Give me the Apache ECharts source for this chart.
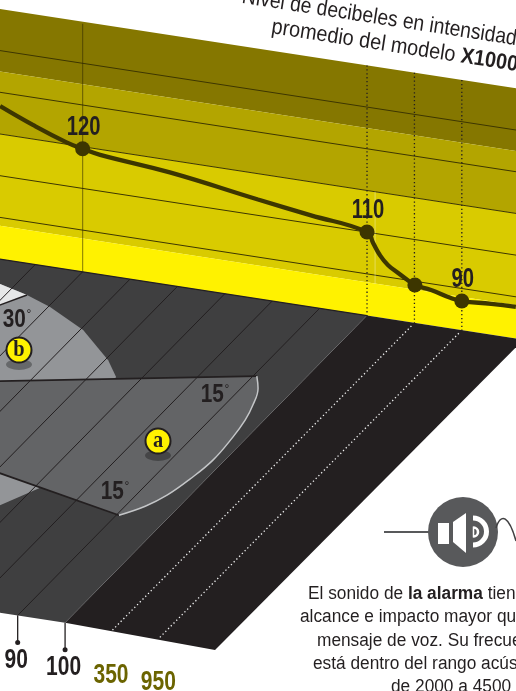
<!DOCTYPE html>
<html>
<head>
<meta charset="utf-8">
<style>html,body{margin:0;padding:0;background:#fff;overflow:hidden}#c{width:516px;height:691px}</style>
<script src="https://cdn.jsdelivr.net/npm/echarts@6/dist/echarts.min.js"></script>
</head>
<body>
<div id="c"></div>
<script>
// ---------- data ----------
const bandLevels = [150, 135, 120, 98, 90];
const gridLevels = [140, 130, 120, 110, 100];
const distanceLines = [30, 40, 50, 60, 70, 80, 90];
const curveDist = [22.6, 29.5, 36.5, 40, 43.7, 58.4, 77, 88, 100, 101.3, 102.7, 104.4, 106.5, 108.6, 110.1, 113.5, 117.7, 120, 126.2, 131.4];
const curveLevel = [126.7, 123.4, 120.5, 119.5, 118.7, 117.05, 113.8, 112, 110.05, 107.6, 105, 102.9, 101.4, 100, 99.1, 98.5, 97.3, 97, 97.4, 97.6];
const pointDist = [40, 100, 110.1, 120];
const pointLevel = [119.5, 110.05, 99.1, 97];
const pointLabels = ['120', '110', '', '90'];
const dottedDist = [100, 110, 120];
const whiteDottedDist = [110, 120];
const tickDist = [90, 100, 110, 120];
const tickLabels = ['90', '100', '350', '950'];
// floor shapes: distance along axis, depth across the floor
const sectorADist = [41, 90.7, 93.1, 95.2, 96.5, 97.3, 97.8, 97.0, 95.7, 93.7, 90.5, 56.2];
const sectorADepth = [.355, .219, .2526, .3027, .3488, .402, .4758, .5395, .5949, .6356, .6724, .5943];
const sectorBDist = [22.4, 27.1, 34, 40.4, 50.6, 60.6, 65.1, 71, 66.9, 64.5];
const sectorBDepth = [.0625, .0707, .09, .114, .1646, .2387, .2832, .6308, .6959, .7245];
const wedgeDist = [22.4, 27.1, 34, 30.9, 28.4];
const wedgeDepth = [.0625, .0707, .09, .1301, .16];

// ---------- scales ----------
const XMIN = 22.57, XMAX = 131.43, YMAX = 152.13, YMIN = -13.57;
const SKEW = 0.175;
const wall = (d, L) => [d, L - SKEW * (d - XMIN)];
const floorPt = (d, t) => wall(d - 63.7 * t, 90 - 84.8 * t);
const INK = '#231f20', OLIVE = '#3d3600';
const FONT = '"Liberation Sans",Arial,sans-serif';
const seq = (a, b) => a.map((v, i) => [v, b[i]]);

const line = (pts, color, width, z, type, smooth) => ({
  type: 'line', data: pts, showSymbol: false, silent: true, animation: false, z: z, smooth: smooth || false,
  lineStyle: { color: color, width: width, type: type || 'solid' }
});
const polySeries = (polys, z) => ({
  type: 'custom', silent: true, animation: false, z: z, clip: false,
  data: polys.map((p, i) => [i]),
  encode: { x: 0 },
  renderItem: (params, api) => {
    const p = polys[params.dataIndex];
    return { type: 'polygon', shape: { points: p.pts.map(q => api.coord(q)) }, style: { fill: p.fill } };
  }
});
// labels placed through the axes, drawn condensed
const labelSeries = (items, z) => ({
  type: 'custom', silent: true, animation: false, z: z, clip: false,
  data: items.map((p, i) => [i]),
  encode: { x: 0 },
  renderItem: (params, api) => {
    const p = items[params.dataIndex];
    const c = api.coord(p.at);
    return {
      type: 'text', x: c[0] + p.dx, y: c[1] + p.dy, scaleX: 0.75,
      style: { text: p.text, align: 'center', verticalAlign: 'middle', font: 'bold ' + p.size + 'px ' + FONT, fill: p.color }
    };
  }
});

const bandColors = ['#857700', '#b3a500', '#d9cb00', '#fff200'];
const bands = bandColors.map((c, i) => ({
  fill: c,
  pts: [wall(XMIN - 2, bandLevels[i]), wall(XMAX + 2, bandLevels[i]), wall(XMAX + 2, bandLevels[i + 1]), wall(XMIN - 2, bandLevels[i + 1])]
}));
const floors = [
  { fill: INK, pts: [floorPt(100, 0), floorPt(133, 0), floorPt(132.4, 1.012), floorPt(100, 1)] },
  { fill: '#3f3f40', pts: [floorPt(15, 0), floorPt(100, 0), floorPt(100, 1), floorPt(15, 1)] },
  { fill: '#939598', pts: seq(sectorBDist, sectorBDepth).map(q => floorPt(q[0], q[1])) },
  { fill: '#e6e7e8', pts: seq(wedgeDist, wedgeDepth).map(q => floorPt(q[0], q[1])) },
  { fill: '#636466', pts: seq(sectorADist, sectorADepth).map(q => floorPt(q[0], q[1])) }
];

const series = [polySeries(bands, 1), polySeries(floors, 3)];
gridLevels.forEach(L => series.push(line([wall(XMIN - 2, L), wall(XMAX + 2, L)], OLIVE, 1, 2)));
series.push(line([wall(40, 149.5), wall(40, 90)], 'rgba(50,42,0,0.5)', 1.2, 2));
series.push(line([wall(101.7, 120), wall(101.7, 98)], 'rgba(255,255,255,0.35)', 1, 2));
dottedDist.forEach(d => series.push(line([wall(d, 150), wall(d, 89.5)], INK, 1.3, 2, [1.3, 2.6])));
series.push(line([wall(15, 90), wall(100, 90)], INK, 1.4, 4));
distanceLines.forEach(d => series.push(line([floorPt(d, 0), floorPt(d, 1)], '#231f20', 1, 5)));
whiteDottedDist.forEach(d => series.push(line([floorPt(d, 0.01), floorPt(d, 1)], '#f1f2f2', 1.3, 5, [1.3, 2.6])));
// sector outlines
series.push(line([floorPt(sectorADist[0], sectorADepth[0]), floorPt(sectorADist[1], sectorADepth[1])], INK, 1.7, 6));
series.push(line([floorPt(sectorADist[11], sectorADepth[11]), floorPt(sectorADist[10], sectorADepth[10])], INK, 1.7, 6));
series.push(line(seq(sectorADist, sectorADepth).slice(1, 11).map(q => floorPt(q[0], q[1])), '#c4c6c8', 1.5, 6, 'solid', 0.4));
series.push(line([floorPt(wedgeDist[2], wedgeDepth[2]), floorPt(wedgeDist[4], wedgeDepth[4])], INK, 1.5, 6));
// curve
series.push(line(seq(curveDist, curveLevel).map(q => wall(q[0], q[1])), OLIVE, 4.3, 8, 'solid', 0.45));
series.push({
  type: 'scatter', silent: true, animation: false, z: 9, symbolSize: 15, itemStyle: { color: OLIVE, opacity: 1 },
  data: seq(pointDist, pointLevel).map(q => wall(q[0], q[1]))
});
series.push(labelSeries(seq(pointDist, pointLevel).map((q, i) => ({
  at: wall(q[0], q[1]), text: pointLabels[i], dx: 1, dy: -21, size: 27, color: INK
})), 10));
// bottom ticks
tickDist.slice(0, 2).forEach(d => {
  const p = floorPt(d, 1);
  series.push(line([p, [p[0], p[1] - 27 / 4.17]], INK, 1.3, 5));
});
series.push({
  type: 'scatter', silent: true, animation: false, z: 9, symbolSize: 5, itemStyle: { color: INK, opacity: 1 },
  data: tickDist.slice(0, 2).map(d => { const p = floorPt(d, 1); return [p[0], p[1] - 27 / 4.17]; })
});
series.push(labelSeries(tickDist.map((d, i) => ({
  at: floorPt(d, 1), text: tickLabels[i], dx: -1.5, dy: 45, size: 28, color: i < 2 ? INK : '#6b6400'
})), 10));

const deg = (txt, x, y) => ({
  type: 'text', x: x, y: y, z: 20, scaleX: 0.8,
  style: {
    text: '{n|' + txt + '}{d|°}', align: 'center', verticalAlign: 'middle',
    rich: {
      n: { font: 'bold 26px ' + FONT, fill: INK, color: INK },
      d: { font: '15px ' + FONT, fill: INK, color: INK, verticalAlign: 'top', padding: [0, 0, 8, 1] }
    }
  }
});
const badge = (txt, x, y) => ([
  { type: 'circle', x: x, y: y + 14.5, scaleY: 0.42, z: 19, shape: { cx: 0, cy: 0, r: 13 }, style: { fill: 'rgba(0,0,0,0.3)' } },
  { type: 'circle', x: x, y: y, z: 20, shape: { cx: 0, cy: 0, r: 12.5 }, style: { fill: '#fff200', stroke: INK, lineWidth: 2 } },
  { type: 'text', x: x, y: y, z: 21, scaleX: 0.85, style: { text: txt, align: 'center', verticalAlign: 'middle', font: 'bold 24px "Liberation Serif",serif', fill: INK } }
]);
const para = (rich, x, y) => ({
  type: 'text', x: x, y: y, z: 20, scaleX: 0.96,
  style: {
    text: rich, align: 'left', verticalAlign: 'middle',
    rich: { r: { font: '18px ' + FONT, fill: INK, color: INK }, b: { font: 'bold 18px ' + FONT, fill: INK, color: INK } }
  }
});

const graphic = [
  {
    type: 'text', x: 515, y: 50, rotation: -0.153, scaleX: 0.88, z: 20,
    style: { text: 'Nivel de decibeles en intensidad', align: 'right', verticalAlign: 'bottom', font: '22px ' + FONT, fill: INK }
  },
  {
    type: 'text', x: 270, y: 38, rotation: -0.153, scaleX: 0.905, z: 20,
    style: {
      text: '{r|promedio del modelo }{b|X1000}', align: 'left', verticalAlign: 'bottom',
      rich: { r: { font: '22px ' + FONT, fill: INK, color: INK }, b: { font: 'bold 22px ' + FONT, fill: INK, color: INK } }
    }
  },
  deg('15', 215, 395), deg('15', 115, 492), deg('30', 17, 320),
  ...badge('a', 158, 441), ...badge('b', 19, 350),
  // speaker
  { type: 'line', z: 20, shape: { x1: 384, y1: 532, x2: 432, y2: 532 }, style: { stroke: '#58595b', lineWidth: 2.2 } },
  { type: 'circle', z: 20, shape: { cx: 463, cy: 532, r: 35 }, style: { fill: '#58595b' } },
  { type: 'rect', z: 21, shape: { x: 438, y: 523, width: 11, height: 21 }, style: { fill: '#fff' } },
  { type: 'polygon', z: 21, shape: { points: [[453, 522], [466, 513], [466, 553], [453, 542]] }, style: { fill: '#fff' } },
  { type: 'arc', z: 21, shape: { cx: 473, cy: 531.5, r: 13.5, startAngle: -Math.PI / 2, endAngle: Math.PI / 2 }, style: { stroke: '#fff', lineWidth: 5, fill: 'none', lineCap: 'butt' } },
  { type: 'arc', z: 21, shape: { cx: 473.5, cy: 532, r: 4.5, startAngle: -Math.PI / 2, endAngle: Math.PI / 2 }, style: { stroke: '#fff', lineWidth: 2.6, fill: 'none', lineCap: 'butt' } },
  { type: 'line', z: 21, shape: { x1: 473.5, y1: 526.5, x2: 473.5, y2: 537.5 }, style: { stroke: '#fff', lineWidth: 1.5 } },
  { type: 'bezierCurve', z: 20, shape: { x1: 496, y1: 528, x2: 516, y2: 541, cpx1: 501, cpy1: 512, cpx2: 509, cpy2: 516 }, style: { stroke: '#414042', lineWidth: 1.5, fill: 'none' } },
  para('{r|El sonido de }{b|la alarma}{r| tien}', 308, 594),
  para('{r|alcance e impacto mayor qu}', 300, 617),
  para('{r|mensaje de voz. Su frecue}', 317, 641),
  para('{r|está dentro del rango acús}', 313, 664),
  para('{r|de 2000 a 4500}', 391, 687)
];

const chart = echarts.init(document.getElementById('c'), null, { renderer: 'canvas' });
chart.setOption({
  animation: false,
  backgroundColor: '#fff',
  grid: { left: 0, right: 0, top: 0, bottom: 0, containLabel: false },
  xAxis: { type: 'value', min: XMIN, max: XMAX, show: false },
  yAxis: { type: 'value', min: YMIN, max: YMAX, show: false },
  tooltip: { show: false },
  legend: { show: false },
  series: series,
  graphic: graphic
});
</script>
</body>
</html>
